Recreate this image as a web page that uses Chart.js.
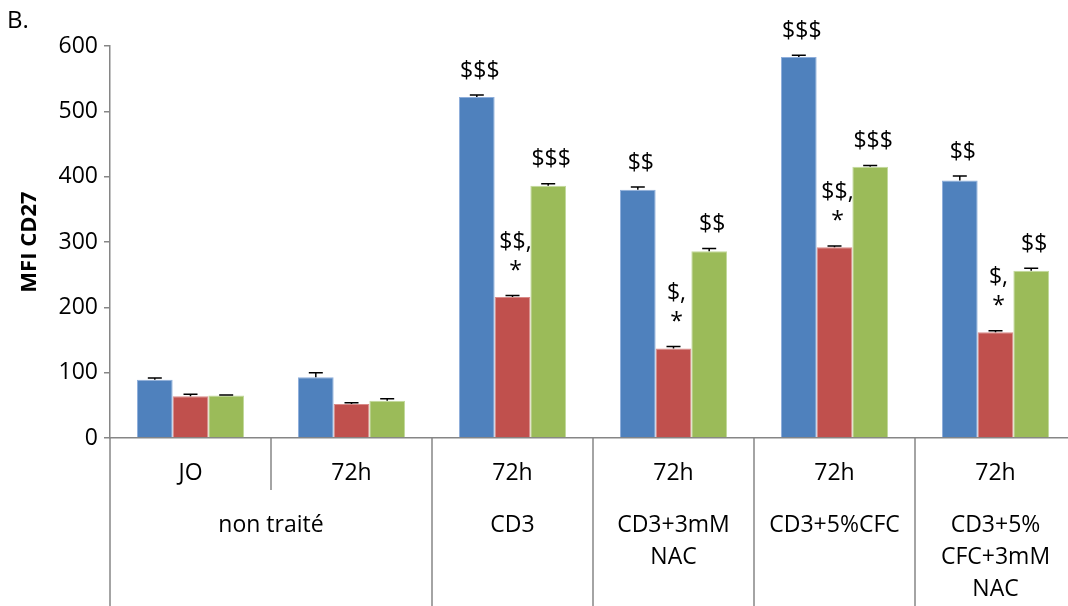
<!DOCTYPE html>
<html>
<head>
<meta charset="utf-8">
<script src="https://cdn.jsdelivr.net/npm/chart.js@4"></script>
<style>
    html, body { margin: 0; padding: 0; background: #fff; overflow: hidden; }
    #wrap { width: 1068px; height: 606px; overflow: hidden; }
</style>
</head>
<body>
<div id="wrap"><canvas id="mfiChart" width="1080" height="606"></canvas></div>
<script>
// Sub-category labels (first row under the axis)
const categories = ['JO', '72h', '72h', '72h', '72h', '72h'];
// Treatment groups (second row) and how many categories each one spans
const groups = [['non traité'], ['CD3'], ['CD3+3mM', 'NAC'], ['CD3+5%CFC'], ['CD3+5%', 'CFC+3mM', 'NAC']];
const groupSpans = [2, 1, 1, 1, 1];

// Series values (MFI CD27)
const seriesBlue = [89, 93, 522, 380, 583, 394];
const seriesRed = [64, 52, 216, 137, 292, 162];
const seriesGreen = [65, 57, 386, 286, 415, 256];

// Upper error bars
const errBlue = [3, 7, 3, 4, 3, 7];
const errRed = [3, 2, 2, 3, 2, 2];
const errGreen = [1, 3, 3, 4, 2, 4];

// Significance marks drawn above each bar
const notesBlue = [[], [], ['$$$'], ['$$'], ['$$$'], ['$$']];
const notesRed = [[], [], ['$$,', '*'], ['$,', '*'], ['$$,', '*'], ['$,', '*']];
const notesGreen = [[], [], ['$$$'], ['$$'], ['$$$'], ['$$']];

const yTicks = [0, 100, 200, 300, 400, 500, 600];

const colors = {
    blue: '#4F81BD',
    red: '#C0504D',
    green: '#9BBB59',
    axis: '#868686'
};
const fontFamily = "'Open Sans', 'DejaVu Sans', sans-serif";

// Draws error bars, the marks above the bars and the two-row category axis
const excelExtras = {
    id: 'excelExtras',
    afterDatasetsDraw(chart) {
        const ctx = chart.ctx;
        const y = chart.scales.y;
        const x = chart.scales.x;
        const area = chart.chartArea;

        ctx.save();
        chart.data.datasets.forEach((ds, di) => {
            const meta = chart.getDatasetMeta(di);
            meta.data.forEach((bar, i) => {
                const top = y.getPixelForValue(ds.data[i] + ds.errors[i]);
                ctx.strokeStyle = '#000';
                ctx.lineWidth = 1.5;
                ctx.beginPath();
                ctx.moveTo(bar.x, bar.y);
                ctx.lineTo(bar.x, top);
                ctx.moveTo(bar.x - 7, top);
                ctx.lineTo(bar.x + 7, top);
                ctx.stroke();

                const lines = ds.notes[i];
                ctx.fillStyle = '#000';
                ctx.font = '23px ' + fontFamily;
                ctx.textAlign = 'center';
                ctx.textBaseline = 'middle';
                for (let k = 0; k < lines.length; k++) {
                    const ly = top - 24 - (lines.length - 1 - k) * 29;
                    ctx.fillText(lines[k], bar.x + 3, ly);
                }
            });
        });

        // category axis
        const step = (area.right - area.left) / categories.length;
        ctx.strokeStyle = colors.axis;
        ctx.lineWidth = 1.5;
        ctx.beginPath();
        let idx = 0;
        ctx.moveTo(area.left, area.bottom);
        ctx.lineTo(area.left, chart.height);
        groupSpans.forEach((span) => {
            for (let s = 1; s < span; s++) {
                const xx = area.left + (idx + s) * step;
                ctx.moveTo(xx, area.bottom);
                ctx.lineTo(xx, area.bottom + 52);
            }
            idx += span;
            const xe = area.left + idx * step;
            ctx.moveTo(xe, area.bottom);
            ctx.lineTo(xe, chart.height);
        });
        ctx.stroke();

        ctx.fillStyle = '#000';
        ctx.font = '23px ' + fontFamily;
        ctx.textAlign = 'center';
        ctx.textBaseline = 'middle';
        categories.forEach((c, i) => {
            ctx.fillText(c, x.getPixelForValue(i), area.bottom + 35);
        });
        idx = 0;
        groups.forEach((g, gi) => {
            const cx = (x.getPixelForValue(idx) + x.getPixelForValue(idx + groupSpans[gi] - 1)) / 2;
            g.forEach((line, k) => {
                ctx.fillText(line, cx, area.bottom + 87 + k * 32);
            });
            idx += groupSpans[gi];
        });

        // panel letter
        ctx.textAlign = 'left';
        ctx.font = '24px ' + fontFamily;
        ctx.fillText('B.', 7, 21);
        ctx.restore();
    }
};

const ctx = document.getElementById('mfiChart');
new Chart(ctx.getContext('2d'), {
    type: 'bar',
    data: {
        labels: categories,
        datasets: [{
            label: 'Série 1',
            data: seriesBlue,
            errors: errBlue,
            notes: notesBlue,
            backgroundColor: colors.blue,
            borderColor: '#8EAEDB',
            borderWidth: 1
        }, {
            label: 'Série 2',
            data: seriesRed,
            errors: errRed,
            notes: notesRed,
            backgroundColor: colors.red,
            borderColor: '#D98A88',
            borderWidth: 1
        }, {
            label: 'Série 3',
            data: seriesGreen,
            errors: errGreen,
            notes: notesGreen,
            backgroundColor: colors.green,
            borderColor: '#C2D99B',
            borderWidth: 1
        }]
    },
    options: {
        responsive: false,
        animation: false,
        devicePixelRatio: 1,
        layout: {
            padding: { top: 46, right: 4, left: 0, bottom: 0 }
        },
        datasets: {
            bar: {
                barPercentage: 1,
                categoryPercentage: 0.665
            }
        },
        plugins: {
            legend: { display: false },
            tooltip: { enabled: false }
        },
        scales: {
            x: {
                ticks: { display: false },
                grid: { display: false },
                border: { color: colors.axis, width: 1.5 },
                afterFit: (scale) => { scale.height = 168; }
            },
            y: {
                min: 0,
                max: 600,
                afterBuildTicks: (scale) => {
                    scale.ticks = yTicks.map(v => ({ value: v }));
                },
                ticks: {
                    color: '#000',
                    padding: 6,
                    font: { family: fontFamily, size: 23 }
                },
                grid: {
                    drawOnChartArea: false,
                    drawTicks: true,
                    tickLength: 6,
                    color: colors.axis,
                    lineWidth: 1.5
                },
                border: { color: colors.axis, width: 1.5 },
                title: {
                    display: true,
                    text: 'MFI CD27',
                    color: '#000',
                    font: { family: fontFamily, size: 22, weight: 'bold' },
                    padding: { top: 17, bottom: 0 }
                },
                afterFit: (scale) => { scale.width = 110; }
            }
        }
    },
    plugins: [excelExtras]
});
</script>
</body>
</html>
